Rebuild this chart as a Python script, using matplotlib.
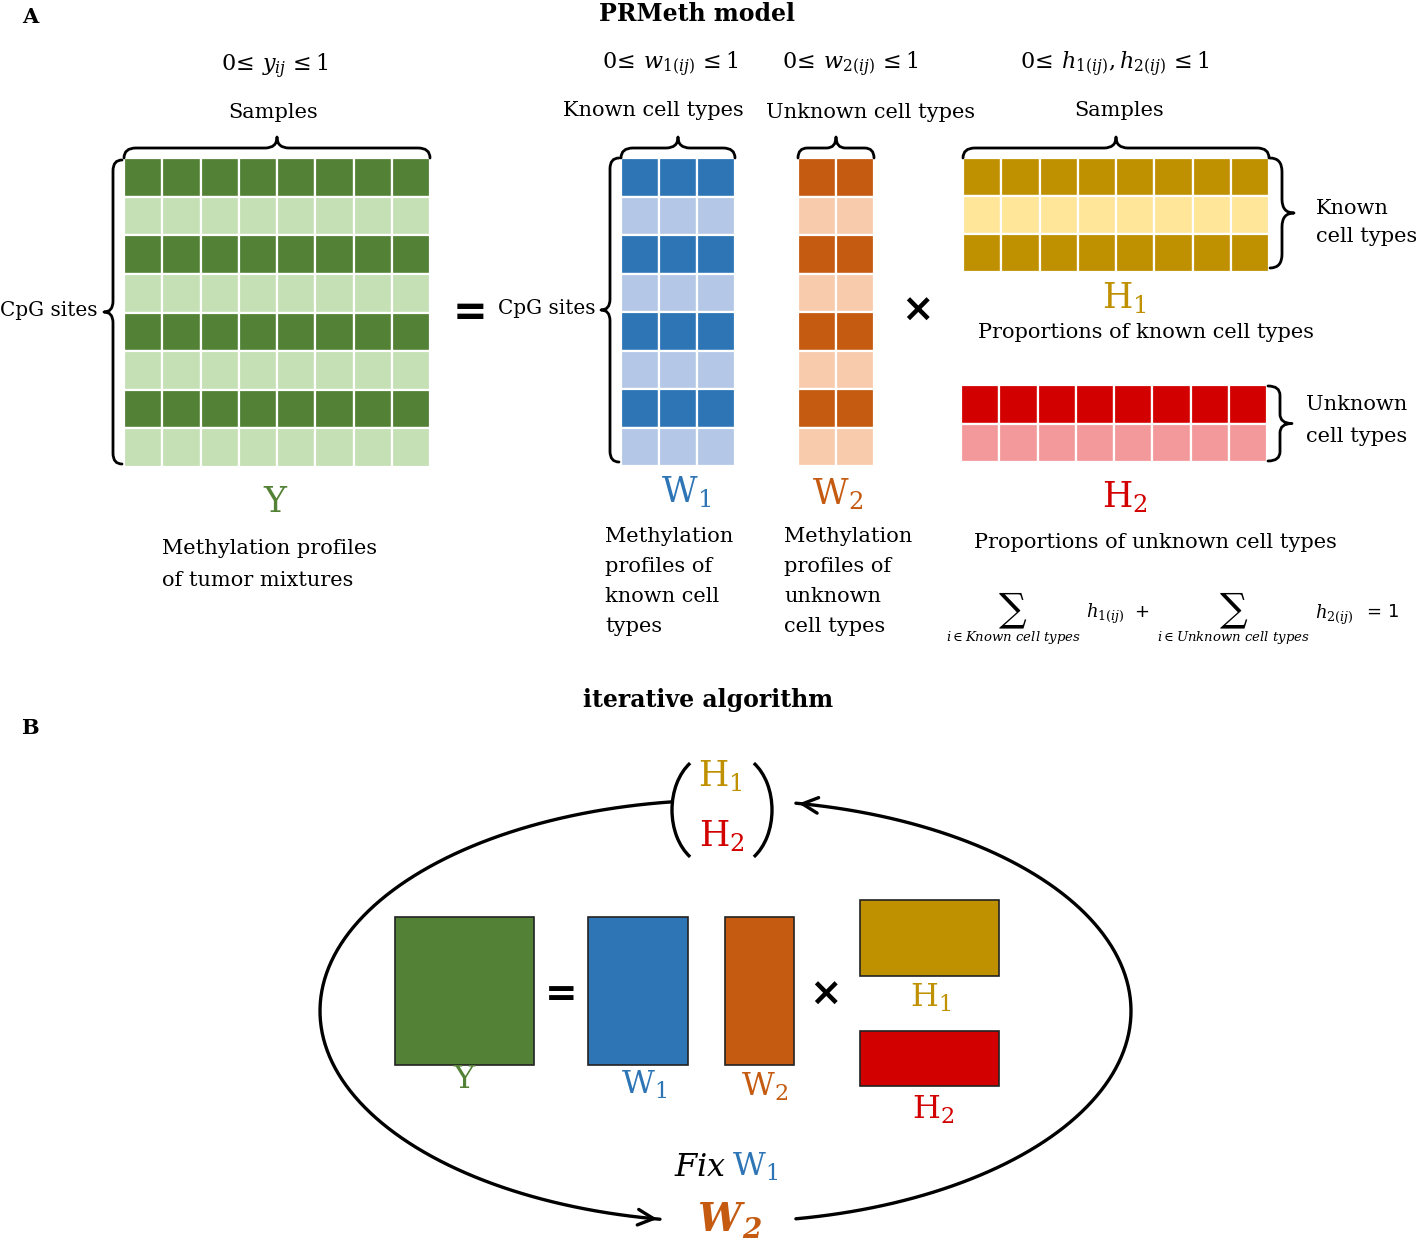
import numpy as np
import matplotlib
matplotlib.use("Agg")
import matplotlib.pyplot as plt
from matplotlib.patches import Rectangle, Arc, PathPatch
from matplotlib.path import Path

plt.rcParams['font.family'] = ['DejaVu Serif']
plt.rcParams['mathtext.fontset'] = 'dejavuserif'

# ---------------- data ----------------
Y_ROWS = [1, 0, 1, 0, 1, 0, 1, 0]
Y_NCOLS = 8
W1_ROWS = [1, 0, 1, 0, 1, 0, 1, 0]
W1_NCOLS = 3
W2_ROWS = [1, 0, 1, 0, 1, 0, 1, 0]
W2_NCOLS = 2
H1_ROWS = [1, 0, 1]
H1_NCOLS = 8
H2_ROWS = [1, 0]
H2_NCOLS = 8

GREEN = ("#538135", "#C5E0B4")
BLUE = ("#2E75B6", "#B4C7E7")
ORANGE = ("#C55A11", "#F8CBAD")
GOLD = ("#BF9000", "#FFE699")
RED = ("#D30000", "#F4999B")

fig = plt.figure(figsize=(14.16, 12.47), dpi=100)
ax = fig.add_axes([0, 0, 1, 1])
ax.set_xlim(0, 1416)
ax.set_ylim(1247, 0)
ax.axis('off')


def grid(x0, y0, x1, y1, rows, ncols, cols):
    nr = len(rows)
    cw = (x1 - x0) / ncols
    ch = (y1 - y0) / nr
    for i, r in enumerate(rows):
        for j in range(ncols):
            ax.add_patch(Rectangle((x0 + j * cw, y0 + i * ch), cw, ch,
                                   fc=cols[0] if r else cols[1],
                                   ec='white', lw=1.6))


def brace(p0, p1, n, d=10, t=11, lw=2.0):
    p0 = np.array(p0, float)
    p1 = np.array(p1, float)
    n = np.array(n, float)
    L = np.linalg.norm(p1 - p0)
    u = (p1 - p0) / L
    r = min(d * 1.2, L / 8)
    m = L / 2
    loc = [(0, 0), (0, d), (r, d), (m - r, d), (m, d), (m, d + t),
           (m, d), (m + r, d), (L - r, d), (L, d), (L, 0)]
    codes = [Path.MOVETO, Path.CURVE3, Path.CURVE3, Path.LINETO, Path.CURVE3,
             Path.CURVE3, Path.CURVE3, Path.CURVE3, Path.LINETO, Path.CURVE3,
             Path.CURVE3]
    verts = [p0 + s * u + v * n for s, v in loc]
    ax.add_patch(PathPatch(Path(verts, codes), fc='none', ec='black', lw=lw,
                           capstyle='round', joinstyle='round'))


def txt(x, y, s, size=15, color='black', ha='center', **kw):
    ax.text(x, y, s, fontsize=size, color=color, ha=ha, va='center', **kw)


# ---------------- panel A ----------------
txt(30, 17, "A", 15, weight='bold')
txt(697, 14, "PRMeth model", 17, weight='bold')

grid(124, 158, 430, 467, Y_ROWS, Y_NCOLS, GREEN)
grid(621, 158, 735, 466, W1_ROWS, W1_NCOLS, BLUE)
grid(798, 158, 874, 466, W2_ROWS, W2_NCOLS, ORANGE)
grid(963, 158, 1269, 272, H1_ROWS, H1_NCOLS, GOLD)
grid(961, 385, 1267, 462, H2_ROWS, H2_NCOLS, RED)

# braces
brace((124, 158), (430, 158), (0, -1))
brace((122, 160), (122, 464), (-1, 0), d=9, t=9)
brace((621, 158), (735, 158), (0, -1))
brace((619, 158), (619, 462), (-1, 0), d=9, t=9)
brace((798, 158), (874, 158), (0, -1))
brace((963, 158), (1269, 158), (0, -1))
brace((1270, 158), (1270, 268), (1, 0), d=12, t=12)
brace((1268, 386), (1268, 461), (1, 0), d=12, t=12)

# math ranges
txt(275, 66, r"$0\!\leq\, y_{ij}\,\leq 1$", 16)
txt(670, 64, r"$0\!\leq\, w_{1(ij)}\,\leq 1$", 16)
txt(850, 64, r"$0\!\leq\, w_{2(ij)}\,\leq 1$", 16)
txt(1115, 64, r"$0\!\leq\, h_{1(ij)}, h_{2(ij)}\,\leq 1$", 16)

txt(273, 112, "Samples", 15)
txt(653, 110, "Known cell types", 15)
txt(871, 112, "Unknown cell types", 15)
txt(1119, 110, "Samples", 15)

txt(98, 310, "CpG sites", 14.4, ha='right')
txt(595, 308, "CpG sites", 14.4, ha='right')
ax.text(470, 313, "=", fontsize=30, ha='center', va='center', weight='bold',
        family='DejaVu Sans')
ax.text(917, 311, "×", fontsize=28, ha='center', va='center', weight='bold',
        family='DejaVu Sans')

txt(1316, 208, "Known", 15, ha='left')
txt(1316, 237, "cell types", 15, ha='left')
txt(1306, 405, "Unknown", 15, ha='left')
txt(1306, 436, "cell types", 15, ha='left')

txt(276, 502, r"$\mathrm{Y}$", 25, GREEN[0])
txt(686, 492, r"$\mathrm{W_1}$", 25, BLUE[0])
txt(838, 494, r"$\mathrm{W_2}$", 25, ORANGE[0])
txt(1124, 298, r"$\mathrm{H_1}$", 25, GOLD[0])
txt(1125, 497, r"$\mathrm{H_2}$", 25, RED[0])

txt(162, 548, "Methylation profiles", 15, ha='left')
txt(162, 580, "of tumor mixtures", 15, ha='left')
txt(1146, 333, "Proportions of known cell types", 15)
txt(1155, 543, "Proportions of unknown cell types", 15)
for k, line in enumerate(["Methylation", "profiles of", "known cell", "types"]):
    txt(605, 537 + 30 * k, line, 15, ha='left')
for k, line in enumerate(["Methylation", "profiles of", "unknown", "cell types"]):
    txt(784, 537 + 30 * k, line, 15, ha='left')

# sum constraint
txt(1013, 610, "∑", 28)
txt(1013, 637, r"$i\in Known\ cell\ types$", 9.5)
txt(1105, 614, r"$h_{1(ij)}$", 13)
txt(1142, 612, "+", 13, family='DejaVu Sans')
txt(1234, 610, "∑", 28)
txt(1233, 637, r"$i\in Unknown\ cell\ types$", 9.5)
txt(1334, 615, r"$h_{2(ij)}$", 13)
txt(1374, 612, "=", 13, family='DejaVu Sans')
txt(1394, 612, "1", 13, family='DejaVu Sans')

# ---------------- panel B ----------------
txt(30, 728, "B", 15, weight='bold')
txt(708, 700, "iterative algorithm", 17, weight='bold')

cx, cy, a, b = 725.5, 1011, 405.5, 211
th = np.radians(np.linspace(-80, 80, 300))
xs, ys = cx + a * np.cos(th), cy - b * np.sin(th)
ax.plot(xs, ys, color='black', lw=2.4, solid_capstyle='round')
ax.annotate('', xy=(xs[-1], ys[-1]), xytext=(xs[-4], ys[-4]),
            arrowprops=dict(arrowstyle='->', lw=2.4, mutation_scale=28,
                            color='black'))
th = np.radians(np.linspace(97.6, 260.7, 300))
xs, ys = cx + a * np.cos(th), cy - b * np.sin(th)
ax.plot(xs, ys, color='black', lw=2.4, solid_capstyle='round')
ax.annotate('', xy=(xs[-1], ys[-1]), xytext=(xs[-4], ys[-4]),
            arrowprops=dict(arrowstyle='->', lw=2.4, mutation_scale=28,
                            color='black'))

# parentheses
ax.add_patch(Arc((712, 810), 80, 112, theta1=115, theta2=245, lw=2.4, color='black'))
ax.add_patch(Arc((732, 810), 80, 112, theta1=-65, theta2=65, lw=2.4, color='black'))
txt(720, 776, r"$\mathrm{H_1}$", 25, GOLD[0])
txt(722, 836, r"$\mathrm{H_2}$", 25, RED[0])

# blocks
ax.add_patch(Rectangle((395, 917), 139, 148, fc=GREEN[0], ec='#222222', lw=1.2))
ax.add_patch(Rectangle((588, 917), 100, 148, fc=BLUE[0], ec='#222222', lw=1.2))
ax.add_patch(Rectangle((725, 917), 69, 148, fc=ORANGE[0], ec='#222222', lw=1.2))
ax.add_patch(Rectangle((860, 900), 139, 76, fc=GOLD[0], ec='#222222', lw=1.2))
ax.add_patch(Rectangle((860, 1031), 139, 55, fc=RED[0], ec='#222222', lw=1.2))
ax.text(561, 995, "=", fontsize=28, ha='center', va='center', weight='bold',
        family='DejaVu Sans')
ax.text(825, 995, "×", fontsize=28, ha='center', va='center', weight='bold',
        family='DejaVu Sans')

txt(465, 1080, r"$\mathrm{Y}$", 23, GREEN[0])
txt(644, 1085, r"$\mathrm{W_1}$", 23, BLUE[0])
txt(765, 1087, r"$\mathrm{W_2}$", 23, ORANGE[0])
txt(931, 998, r"$\mathrm{H_1}$", 23, GOLD[0])
txt(933, 1110, r"$\mathrm{H_2}$", 23, RED[0])

txt(700, 1167, r"$Fix$", 23)
txt(755, 1167, r"$\mathrm{W_1}$", 23, BLUE[0])
ax.text(719, 1220, "W", fontsize=28, color=ORANGE[0], ha='center', va='center',
        weight='bold', style='italic')
ax.text(752, 1231, "2", fontsize=20, color=ORANGE[0], ha='center', va='center',
        weight='bold', style='italic')

fig.savefig("out.png", dpi=100)
